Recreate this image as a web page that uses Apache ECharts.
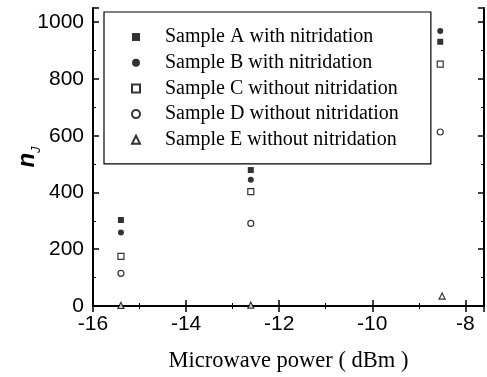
<!DOCTYPE html>
<html><head><meta charset="utf-8">
<script src="https://cdn.jsdelivr.net/npm/echarts@6/dist/echarts.min.js"></script>
<style>html,body{margin:0;padding:0;background:#fff}#c{width:487px;height:377px}</style>
</head><body><div id="c"></div>
<script>
const xValues = [-15.4, -12.61, -8.54];
const xValuesE = [-15.4, -12.61, -8.5];
const sampleA = [303, 479, 931];
const sampleB = [259, 445, 969];
const sampleC = [175, 403, 852];
const sampleD = [115, 291, 613];
const sampleE = [2, 3, 35];
const seriesNames = ['Sample A with nitridation','Sample B with nitridation','Sample C without nitridation','Sample D without nitridation','Sample E without nitridation'];
const xName = 'Microwave power ( dBm )';

const pair = (xs, ys) => xs.map((x, i) => [x, ys[i]]);
const chart = echarts.init(document.getElementById('c'));
const serif = 'Liberation Serif';
const sans = 'Liberation Sans';
const axisCommon = {
  axisLine: {show: true, lineStyle: {color: '#000', width: 2}},
  axisTick: {show: true, inside: true, length: 6, lineStyle: {color: '#000', width: 1.5}},
  minorTick: {show: true, splitNumber: 2, length: 3, lineStyle: {color: '#000', width: 1}},
  splitLine: {show: false}
};
const mk = (name, data, symbol, filled, size) => ({
  name, type: 'scatter', data, symbol, symbolSize: size,
  itemStyle: filled ? {color: '#000', borderWidth: 0} : {color: '#fff', borderColor: '#000', borderWidth: 1.2}
});
chart.setOption({
  animation: false,
  backgroundColor: '#fff',
  grid: {left: 93, right: 3, top: 8, bottom: 71, containLabel: false, outerBoundsMode: 'none'},
  legend: {
    orient: 'vertical', left: 104, top: 12,
    backgroundColor: '#fff', borderColor: '#000', borderWidth: 1.2,
    padding: [15, 32, 14, 27],
    itemWidth: 8, itemHeight: 8, itemGap: 5.7,
    textStyle: {fontFamily: serif, fontSize: 20, color: '#000', lineHeight: 20, padding: [0, 0, 0, 20]},
    data: seriesNames
  },
  xAxis: [
    Object.assign({type: 'value', min: -16, max: -7.6, interval: 2,
      name: xName, nameLocation: 'middle', nameGap: 44, nameMoveOverlap: false,
      nameTextStyle: {fontFamily: serif, fontSize: 22.5, color: '#000'},
      axisLabel: {fontFamily: sans, fontSize: 21, color: '#000', margin: 8, showMaxLabel: false}}, axisCommon),
    Object.assign({type: 'value', min: -16, max: -7.6, interval: 2, position: 'top',
      axisLabel: {show: false}}, axisCommon)
  ],
  yAxis: [
    Object.assign({type: 'value', min: 0, max: 1050, interval: 200,
      name: '{n|n}{j|J}', nameLocation: 'middle', nameGap: 54, nameRotate: 90, nameMoveOverlap: false,
      nameTextStyle: {rich: {
        n: {fontFamily: sans, fontSize: 24, fontWeight: 'bold', fontStyle: 'italic', color: '#000', verticalAlign: 'bottom'},
        j: {fontFamily: sans, fontSize: 13, fontStyle: 'italic', color: '#000', verticalAlign: 'bottom', padding: [0,0,-4,0]}
      }},
      axisLabel: {fontFamily: sans, fontSize: 21, color: '#000', margin: 9, showMaxLabel: false,
        formatter: v => String(v)}}, axisCommon),
    Object.assign({type: 'value', min: 0, max: 1050, interval: 200, position: 'right',
      axisLabel: {show: false}}, axisCommon)
  ],
  series: [
    mk(seriesNames[0], pair(xValues, sampleA), 'rect', true, 6),
    mk(seriesNames[1], pair(xValues, sampleB), 'circle', true, 6),
    mk(seriesNames[2], pair(xValues, sampleC), 'rect', false, 6),
    mk(seriesNames[3], pair(xValues, sampleD), 'circle', false, 6),
    mk(seriesNames[4], pair(xValuesE, sampleE), 'triangle', false, 6)
  ]
});
</script></body></html>
